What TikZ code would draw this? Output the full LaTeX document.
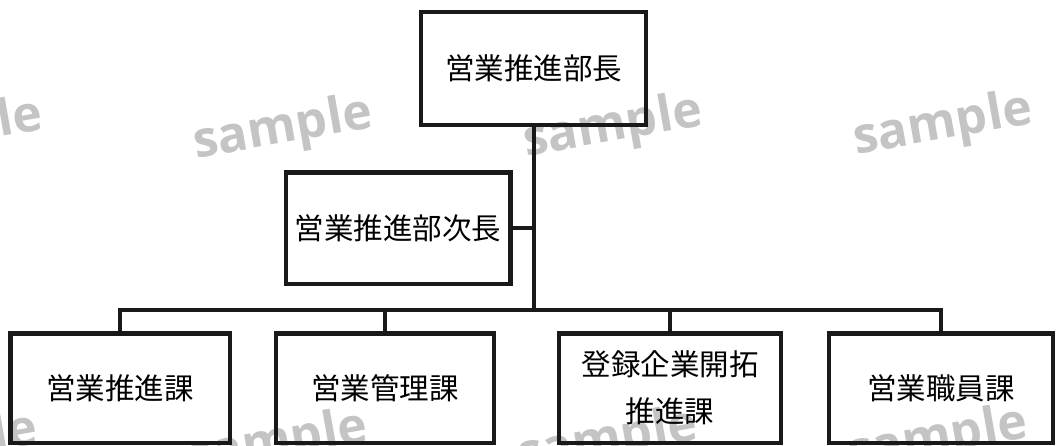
\documentclass[tikz,border=0pt]{standalone}
\usepackage{fontspec}
\newfontfamily\jpfont{Noto Sans CJK JP}
\newfontfamily\wmfont{Open Sans}
\begin{document}
\begin{tikzpicture}[x=1pt,y=-1pt,
  box/.style={draw=black!90, line width=4.5pt, rectangle, inner sep=0pt,
    align=center, font=\jpfont\fontsize{29.5}{47}\selectfont},
  link/.style={draw=black!90, line width=4pt, line cap=rect, line join=miter},
  wm/.style={font=\wmfont\bfseries\fontsize{50}{50}\selectfont, text=black!23, rotate=10, inner sep=0pt}]
\useasboundingbox (0,0) rectangle (1056,445);
\clip (0,0) rectangle (1056,445);
% watermarks
\node[wm] (w1) at (-47,132) {sample};
\node[wm] (w2) at (283,130) {sample};
\node[wm] (w3) at (613,128) {sample};
\node[wm] (w4) at (943,126) {sample};
\node[wm] (w5) at (-52,446) {sample};
\node[wm] (w6) at (278,444) {sample};
\node[wm] (w7) at (608,442) {sample};
\node[wm] (w8) at (938,440) {sample};
% boxes
\node[box, minimum width=225pt, minimum height=113pt] (top) at (533.5,68.5) {営業推進部長};
\node[box, minimum width=224.5pt, minimum height=111.5pt] (vice) at (398,228) {営業推進部次長};
\node[box, minimum width=219.5pt, minimum height=109.5pt] (b1) at (120,388) {営業推進課};
\node[box, minimum width=218pt, minimum height=109.5pt] (b2) at (385,388) {営業管理課};
\node[box, minimum width=222pt, minimum height=109.5pt] (b3) at (670,388) {登録企業開拓\\推進課};
\node[box, minimum width=224pt, minimum height=109.5pt] (b4) at (941,388) {営業職員課};
\coordinate (bus) at (533.5,310);
% connectors
\draw[link] (top.south) -- (bus);
\draw[link] (vice.east) -- (vice.east -| bus);
\draw[link] (b1.north) |- (bus) -| (b4.north);
\draw[link] (b2.north) -- (b2.north |- bus);
\draw[link] (b3.north) -- (b3.north |- bus);
\end{tikzpicture}
\end{document}
